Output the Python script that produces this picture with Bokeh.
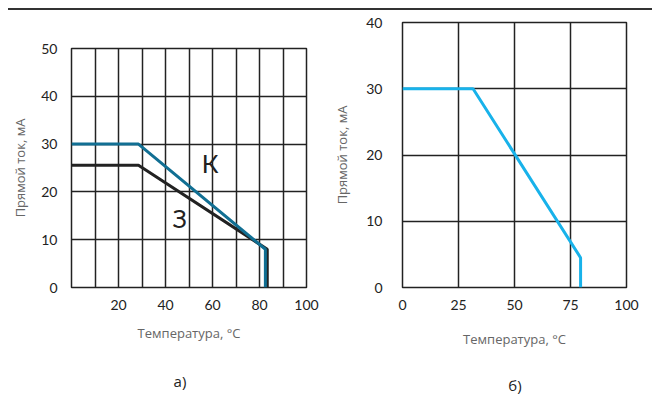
from bokeh.plotting import figure
from bokeh.layouts import row, column
from bokeh.models import FixedTicker, Range1d, Label, Div
from bokeh.embed import file_html
from bokeh.resources import INLINE

# ---- data: chart a)
a_k_x = [0, 28.5, 82.5, 82.5]
a_k_y = [30, 30, 8, 0]
a_z_x = [0, 28.5, 83.3, 83.3]
a_z_y = [25.6, 25.6, 8, 0]
a_xticks = [20, 40, 60, 80, 100]
a_yticks = [0, 10, 20, 30, 40, 50]
a_xgrid = [10, 20, 30, 40, 50, 60, 70, 80, 90]
a_ygrid = [10, 20, 30, 40]

# ---- data: chart б)
b_x = [0, 31.5, 79.5, 79.5]
b_y = [30, 30, 4.5, 0]
b_xticks = [0, 25, 50, 75, 100]
b_yticks = [0, 10, 20, 30, 40]
b_xgrid = [25, 50, 75]
b_ygrid = [10, 20, 30]

ylab = "Прямой ток, мА"
xlab = "Температура, °C"
captions = ["а)", "б)"]
TICK_FONT = "Lato"
TITLE_FONT = "Open Sans"


def style(p, xt, yt, xg, yg, ystand, ylstand, xlstand):
    p.outline_line_color = "#222222"
    p.outline_line_width = 1.5
    p.outline_line_alpha = 1
    for ax in (p.xaxis, p.yaxis):
        ax.axis_line_color = None
        ax.major_tick_line_color = None
        ax.minor_tick_line_color = None
        ax.major_label_text_font = TICK_FONT
        ax.major_label_text_font_size = "14px"
        ax.major_label_text_color = "#222222"
        ax.axis_label_text_font = TITLE_FONT
        ax.axis_label_text_font_size = "13px"
        ax.axis_label_text_font_style = "normal"
        ax.axis_label_text_color = "#666666"
    p.xaxis.ticker = FixedTicker(ticks=xt)
    p.yaxis.ticker = FixedTicker(ticks=yt)
    p.xgrid.ticker = FixedTicker(ticks=xg)
    p.ygrid.ticker = FixedTicker(ticks=yg)
    for g in (p.xgrid, p.ygrid):
        g.grid_line_color = "#222222"
        g.grid_line_width = 1.5
        g.grid_line_alpha = 1
    p.xaxis.major_label_standoff = 6
    p.yaxis.major_label_standoff = ystand
    p.xaxis.axis_label = xlab
    p.yaxis.axis_label = ylab
    p.xaxis.axis_label_standoff = xlstand
    p.yaxis.axis_label_standoff = ylstand
    p.background_fill_color = "white"
    p.border_fill_color = "white"


H = 340
p1 = figure(width=322, height=H, output_backend="svg", toolbar_location=None,
            x_range=Range1d(0, 100), y_range=Range1d(0, 50),
            min_border_left=60, min_border_right=24, min_border_top=38,
            min_border_bottom=H - 38 - 239, sizing_mode="fixed")
style(p1, a_xticks, a_yticks, a_xgrid, a_ygrid, 8, 9, 11)
p1.line(a_z_x, a_z_y, line_color="#222222", line_width=3)
p1.line(a_k_x, a_k_y, line_color="#116f93", line_width=3)
p1.add_layout(Label(x=59, y=26, text="К", text_font=TICK_FONT, text_font_size="25px",
                    text_color="#222222", text_align="center", text_baseline="middle"))
p1.add_layout(Label(x=46, y=14.6, text="З", text_font=TICK_FONT, text_font_size="25px",
                    text_color="#222222", text_align="center", text_baseline="middle"))

p2 = figure(width=322, height=H, output_backend="svg", toolbar_location=None,
            x_range=Range1d(0, 100), y_range=Range1d(0, 40),
            min_border_left=72, min_border_right=26, min_border_top=12,
            min_border_bottom=H - 12 - 268, sizing_mode="fixed")
style(p2, b_xticks, b_yticks, b_xgrid, b_ygrid, 14, 12, 17)
p2.line(b_x, b_y, line_color="#18b2ea", line_width=3)

top = Div(text="", width=644, height=2, styles={"background-color": "#333333"},
          sizing_mode="fixed", margin=0)
cap_html = (
    '<div style="position:relative;width:644px;height:40px;'
    'font-family:\'Open Sans\';font-size:15px;line-height:18px;color:#222222;">'
    '<span style="position:absolute;left:172px;top:22px;'
    'white-space:nowrap;transform:translateX(-50%);">' + captions[0] + '</span>'
    '<span style="position:absolute;left:507px;top:26px;'
    'white-space:nowrap;transform:translateX(-50%);">' + captions[1] + '</span></div>'
)
bottom = Div(text=cap_html, width=644, height=38, sizing_mode="fixed", margin=0)
c1 = column(p1, width=322, height=H, sizing_mode="fixed")
c2 = column(p2, width=322, height=H, sizing_mode="fixed")
layout = column(top, row(c1, c2, sizing_mode="fixed", width=644, height=H), bottom,
                sizing_mode="fixed", width=644, height=2 + H + 38, margin=(8, 0, 0, 8))

open("out.html", "w").write(file_html(layout, INLINE))
